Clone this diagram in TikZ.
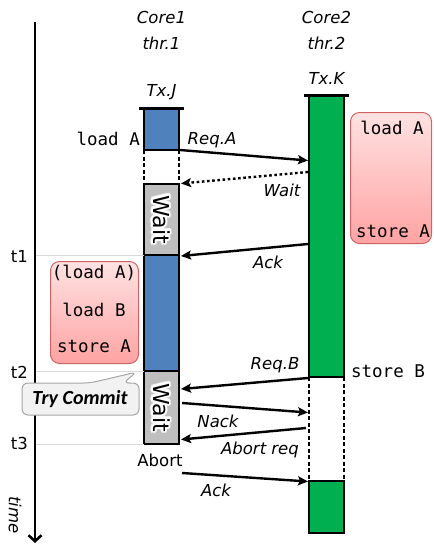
\documentclass[tikz,border=0pt]{standalone}
\usepackage{fontspec}
\setmainfont{DejaVu Sans}
\setmonofont{DejaVu Sans Mono}
\newfontfamily\calfont{Carlito}
\usetikzlibrary{arrows.meta,calc}
\definecolor{txblue}{HTML}{4F81BD}
\definecolor{txgreen}{HTML}{00B050}
\definecolor{waitgray}{HTML}{BFBFBF}
\definecolor{pinkedge}{HTML}{CF6464}
\definecolor{pinktop}{HTML}{FFE2E2}
\definecolor{pinkbot}{HTML}{FFA3A3}
\definecolor{calloutfill}{HTML}{F2F2F2}
\definecolor{calloutedge}{HTML}{A6A6A6}
\definecolor{tickgray}{HTML}{D9D9D9}
\begin{document}
\begin{tikzpicture}[x=1pt,y=-1pt,
  lbl/.style={font=\fontsize{16.5}{19}\selectfont\itshape, inner sep=0pt},
  plain/.style={font=\fontsize{16.5}{19}\selectfont, inner sep=0pt},
  code/.style={font=\fontsize{17.5}{20}\selectfont\ttfamily, inner sep=0pt},
  seg/.style={draw=black, line width=1.3pt, minimum width=35pt, inner sep=0pt, outer sep=0pt},
  dashline/.style={draw=black, line width=1.2pt, dash pattern=on 4pt off 2.5pt},
  txcap/.style={line width=3pt},
  msg/.style={line width=2.4pt, -{Stealth[length=10pt,width=9pt,inset=2pt]}},
  dotmsg/.style={msg, dash pattern=on 2.6pt off 2.6pt},
  tick/.style={draw=tickgray, line width=0.6pt},
  pinkbox/.style={draw=pinkedge, line width=1pt, rounded corners=9pt,
    top color=pinktop, bottom color=pinkbot},
  waittext/.style={font=\fontsize{22}{24}\selectfont, rotate=-90, inner sep=0pt},
]
\useasboundingbox (0,0) rectangle (434,544);

% time axis
\coordinate (tstart) at (35,22);
\coordinate (tend) at (35,543);
\draw[line width=2.6pt, -{Straight Barb[length=6pt,width=13pt]}] (tstart) -- (tend);
\node[lbl, rotate=-90] (timelbl) at (15,515) {time};

% thread headers
\node[lbl] (core1) at (161.5,17) {Core1};
\node[lbl] (thr1) at (161.5,43) {thr.1};
\node[lbl] (txj) at (161.5,92) {Tx.J};
\node[lbl] (core2) at (326.5,17) {Core2};
\node[lbl] (thr2) at (326.5,43) {thr.2};
\node[lbl] (txk) at (326.5,78) {Tx.K};

% transaction J on core 1
\node[seg, fill=txblue, minimum height=42pt, anchor=north] (j1) at (161.5,108) {};
\node[seg, fill=waitgray, minimum height=71pt, anchor=north] (jw1) at (161.5,184) {};
\node[seg, fill=txblue, minimum height=116pt, anchor=north] (j2) at (161.5,255) {};
\node[seg, fill=waitgray, minimum height=73pt, anchor=north] (jw2) at (161.5,371) {};
\draw[dashline] (j1.south west) -- (jw1.north west);
\draw[dashline] (j1.south east) -- (jw1.north east);
\draw[txcap] ([xshift=-5pt]j1.north west) -- ([xshift=5pt]j1.north east);

% transaction K on core 2
\node[seg, fill=txgreen, minimum height=282pt, anchor=north] (k1) at (326.5,95) {};
\node[seg, fill=txgreen, minimum height=52pt, anchor=north] (k2) at (326.5,481) {};
\draw[dashline] (k1.south west) -- (k2.north west);
\draw[dashline] (k1.south east) -- (k2.north east);
\draw[txcap] ([xshift=-5pt]k1.north west) -- ([xshift=5pt]k1.north east);

% glowing "Wait" labels
\foreach \a in {0,30,...,330} {
  \node[waittext, text=white, opacity=0.6] (glowb\a) at ($(jw1.center)+(\a:2.6pt)$) {Wait};
  \node[waittext, text=white] (glowa\a) at ($(jw1.center)+(\a:1.5pt)$) {Wait};
  \node[waittext, text=white, opacity=0.6] (glowd\a) at ($(jw2.center)+(\a:2.6pt)$) {Wait};
  \node[waittext, text=white] (glowc\a) at ($(jw2.center)+(\a:1.5pt)$) {Wait};
}
\node[waittext] (wait1) at (jw1.center) {Wait};
\node[waittext] (wait2) at (jw2.center) {Wait};

% time marks
\draw[tick] (36,255) -- (j2.north west);
\draw[tick] (36,371) -- (jw2.north west);
\draw[tick] (36,444) -- (jw2.south west);
\node[plain, anchor=east] (t1) at (28,256) {t1};
\node[plain, anchor=east] (t2) at (28,372) {t2};
\node[plain, anchor=east] (t3) at (28,443) {t3};

% operations
\node[code, anchor=east] (loadA) at (140,139) {load A};
\node[code] (storeB) at (388,371) {store B};
\node[plain] (abort) at (160,460) {Abort};

\node[pinkbox, minimum width=88pt, minimum height=102pt, anchor=north west] (opsJ) at (50,261) {};
\node[code] (opsJa) at (94,273) {(load A)};
\node[code] (opsJb) at (94,310) {load B};
\node[code] (opsJc) at (94,346) {store A};

\node[pinkbox, minimum width=81pt, minimum height=131pt, anchor=north west] (opsK) at (350,112) {};
\node[code] (opsKa) at (392,128) {load A};
\node[code] (opsKb) at (393,231) {store A};

% try-commit callout
\draw[draw=calloutedge, fill=calloutfill, line width=1pt, rounded corners=6pt]
  (22,383) -- (90,383) -- (137,372) -- (123,383) -- (139,383) -- (139,415) -- (22,415) -- cycle;
\node[font=\fontsize{20}{22}\selectfont\calfont\bfseries\itshape, inner sep=0pt] (trycommit) at (80,399.5) {Try Commit};

% coherence messages
\coordinate (reqA-s) at (180,150);  \coordinate (reqA-e) at (308,160.5);
\coordinate (waitm-s) at (308,172); \coordinate (waitm-e) at (181,183.5);
\coordinate (ack1-s) at (308,244);  \coordinate (ack1-e) at (181,256);
\coordinate (reqB-s) at (308,378);  \coordinate (reqB-e) at (181,389);
\coordinate (nack-s) at (182,403);  \coordinate (nack-e) at (308,412.5);
\coordinate (abrq-s) at (306,428);  \coordinate (abrq-e) at (181,439.5);
\coordinate (ack2-s) at (182,473);  \coordinate (ack2-e) at (308,481.5);

\draw[msg] (reqA-s) -- (reqA-e);
\draw[dotmsg] (waitm-s) -- (waitm-e);
\draw[msg] (ack1-s) -- (ack1-e);
\draw[msg] (reqB-s) -- (reqB-e);
\draw[msg] (nack-s) -- (nack-e);
\draw[msg] (abrq-s) -- (abrq-e);
\draw[msg] (ack2-s) -- (ack2-e);

\node[lbl] (reqAlbl) at (212,140) {Req.A};
\node[lbl] (waitlbl) at (282,190) {Wait};
\node[lbl] (ack1lbl) at (268,262) {Ack};
\node[lbl] (reqBlbl) at (275,365) {Req.B};
\node[lbl] (nacklbl) at (218,421) {Nack};
\node[lbl] (abrqlbl) at (260,450) {Abort req};
\node[lbl] (ack2lbl) at (216,490) {Ack};
\end{tikzpicture}
\end{document}
